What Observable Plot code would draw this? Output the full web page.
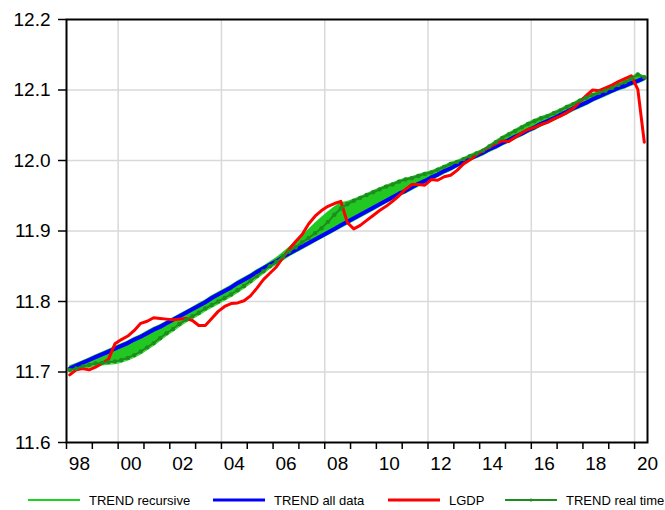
<!DOCTYPE html>
<html>
<head>
<meta charset="utf-8">
<script src="https://cdn.jsdelivr.net/npm/d3@7"></script>
<script src="https://cdn.jsdelivr.net/npm/@observablehq/plot@0.6"></script>
<style>
  body { margin: 0; background: #fff; font-family: "Liberation Sans", Arial, sans-serif; }
  #wrap { position: relative; width: 665px; height: 510px; overflow: hidden; }
  .item { position: absolute; top: 491px; height: 18px; display: flex; align-items: center;
          font-size: 13px; color: #000; white-space: nowrap; }
  .item svg { margin-right: 9px; }
</style>
</head>
<body>
<div id="wrap"></div>
<script>
// Quarterly observations, 1998Q1 - 2020Q2 (log real GDP and its HP trends)
const startYear = 1998;

const lgdp = [
  11.696, 11.703, 11.705, 11.703, 11.707, 11.712, 11.718, 11.740, 11.746, 11.751,
  11.759, 11.769, 11.772, 11.777, 11.776, 11.775, 11.774, 11.775, 11.776, 11.773,
  11.766, 11.766, 11.776, 11.786, 11.793, 11.797, 11.798, 11.801, 11.808, 11.819,
  11.831, 11.840, 11.849, 11.862, 11.874, 11.885, 11.895, 11.910, 11.921, 11.929,
  11.935, 11.939, 11.942, 11.912, 11.903, 11.908, 11.915, 11.922, 11.929, 11.935,
  11.942, 11.950, 11.959, 11.966, 11.966, 11.965, 11.973, 11.972, 11.977, 11.979,
  11.986, 11.995, 12.001, 12.008, 12.014, 12.019, 12.024, 12.028, 12.027, 12.033,
  12.039, 12.044, 12.047, 12.051, 12.054, 12.059, 12.063, 12.068, 12.074, 12.083,
  12.092, 12.100, 12.099, 12.103, 12.107, 12.112, 12.116, 12.120, 12.101, 12.026
];

const trendAllData = [
  11.705, 11.709, 11.713, 11.717, 11.721, 11.725, 11.729, 11.733, 11.737, 11.741,
  11.746, 11.750, 11.755, 11.760, 11.764, 11.769, 11.774, 11.779, 11.784, 11.789,
  11.794, 11.799, 11.805, 11.810, 11.815, 11.820, 11.826, 11.831, 11.836, 11.842,
  11.847, 11.852, 11.857, 11.863, 11.868, 11.873, 11.878, 11.883, 11.888, 11.893,
  11.898, 11.903, 11.908, 11.913, 11.918, 11.923, 11.928, 11.933, 11.938, 11.943,
  11.948, 11.953, 11.957, 11.962, 11.967, 11.971, 11.976, 11.980, 11.985, 11.989,
  11.994, 11.998, 12.003, 12.007, 12.011, 12.016, 12.020, 12.025, 12.029, 12.034,
  12.038, 12.043, 12.047, 12.052, 12.056, 12.060, 12.065, 12.069, 12.074, 12.078,
  12.082, 12.087, 12.091, 12.095, 12.099, 12.103, 12.106, 12.110, 12.113, 12.117
];

const trendRealTime = [
  11.703, 11.705, 11.708, 11.710, 11.712, 11.713, 11.714, 11.715, 11.717, 11.720,
  11.724, 11.729, 11.735, 11.741, 11.748, 11.755, 11.761, 11.768, 11.774, 11.779,
  11.784, 11.790, 11.795, 11.800, 11.805, 11.810, 11.816, 11.822, 11.829, 11.836,
  11.843, 11.850, 11.856, 11.864, 11.871, 11.877, 11.884, 11.890, 11.897, 11.904,
  11.913, 11.923, 11.932, 11.938, 11.943, 11.947, 11.951, 11.955, 11.959, 11.963,
  11.966, 11.970, 11.973, 11.975, 11.978, 11.981, 11.983, 11.987, 11.991, 11.995,
  11.998, 12.002, 12.006, 12.010, 12.014, 12.020, 12.026, 12.032, 12.037, 12.042,
  12.047, 12.052, 12.056, 12.060, 12.063, 12.067, 12.071, 12.076, 12.080, 12.085,
  12.089, 12.093, 12.096, 12.099, 12.103, 12.107, 12.111, 12.116, 12.122, 12.118
];

// Envelope of the recursively estimated trends (lowest and highest estimate per quarter)
const trendRecursiveLow = [
  11.700, 11.702, 11.705, 11.707, 11.709, 11.710, 11.711, 11.712, 11.714, 11.717,
  11.721, 11.726, 11.732, 11.738, 11.745, 11.752, 11.758, 11.765, 11.771, 11.776,
  11.781, 11.787, 11.792, 11.797, 11.802, 11.807, 11.813, 11.819, 11.826, 11.833,
  11.840, 11.847, 11.853, 11.859, 11.865, 11.870, 11.875, 11.880, 11.885, 11.890,
  11.895, 11.900, 11.905, 11.910, 11.915, 11.920, 11.925, 11.930, 11.935, 11.940,
  11.945, 11.950, 11.954, 11.959, 11.964, 11.968, 11.973, 11.977, 11.982, 11.986,
  11.991, 11.995, 12.000, 12.004, 12.008, 12.013, 12.017, 12.022, 12.026, 12.031,
  12.035, 12.040, 12.044, 12.049, 12.053, 12.057, 12.062, 12.066, 12.071, 12.075,
  12.079, 12.084, 12.088, 12.092, 12.096, 12.100, 12.103, 12.107, 12.110, 12.114
];

const trendRecursiveHigh = [
  11.709, 11.712, 11.716, 11.720, 11.724, 11.728, 11.732, 11.736, 11.740, 11.744,
  11.749, 11.753, 11.758, 11.763, 11.767, 11.772, 11.777, 11.782, 11.787, 11.792,
  11.797, 11.802, 11.808, 11.813, 11.818, 11.823, 11.829, 11.834, 11.839, 11.845,
  11.850, 11.856, 11.862, 11.869, 11.877, 11.885, 11.893, 11.902, 11.911, 11.919,
  11.927, 11.934, 11.940, 11.942, 11.945, 11.949, 11.953, 11.957, 11.961, 11.965,
  11.968, 11.972, 11.975, 11.977, 11.980, 11.983, 11.985, 11.989, 11.993, 11.997,
  12.000, 12.004, 12.008, 12.012, 12.016, 12.022, 12.028, 12.034, 12.039, 12.044,
  12.049, 12.054, 12.058, 12.062, 12.065, 12.069, 12.073, 12.078, 12.082, 12.087,
  12.091, 12.095, 12.098, 12.101, 12.105, 12.109, 12.113, 12.118, 12.124, 12.120
];

const yearLabels = ["98", "00", "02", "04", "06", "08", "10", "12", "14", "16", "18", "20"];
const yTicks = [11.6, 11.7, 11.8, 11.9, 12.0, 12.1, 12.2];

const seriesNames  = ["TREND recursive", "TREND all data", "LGDP", "TREND real time"];
const seriesColors = ["#1ed21e", "#0000ff", "#ff0000", "#1e8c1e"];

// Each quarter is placed at the middle of its period on a continuous year axis
const rows = lgdp.map((v, i) => ({
  t: startYear + (i + 0.5) / 4,
  lgdp: v,
  all: trendAllData[i],
  rt: trendRealTime[i],
  lo: trendRecursiveLow[i],
  hi: trendRecursiveHigh[i]
}));

const yearTicks = d3.range(startYear, 2021);
const gridYears = d3.range(2000, 2021, 4);
const labelPos = yearLabels.map((_, i) => startYear + 2 * i + 0.5);
const labelOf = new Map(labelPos.map((p, i) => [p, yearLabels[i]]));
const gridColor = "#d9d9d9";

const chart = Plot.plot({
  width: 665,
  height: 478,
  marginLeft: 66,
  marginRight: 18,
  marginTop: 19,
  marginBottom: 36,
  style: { fontFamily: "'Liberation Sans', Arial, sans-serif", fontSize: "19px", color: "#000", background: "#fff", overflow: "visible" },
  x: { domain: [startYear, 2020.5], axis: null },
  y: { domain: [11.6, 12.2], axis: null },
  marks: [
    Plot.gridX(gridYears, { stroke: gridColor, strokeOpacity: 1, strokeWidth: 1.5 }),
    Plot.gridY(yTicks.slice(1, -1), { stroke: gridColor, strokeOpacity: 1, strokeWidth: 1.5 }),
    Plot.areaY(rows, { x: "t", y1: "lo", y2: "hi", fill: "#22c822", fillOpacity: 1 }),
    Plot.lineY(rows, { x: "t", y: "lo", stroke: "#2ed82e", strokeWidth: 1.2 }),
    Plot.lineY(rows, { x: "t", y: "all", stroke: seriesColors[1], strokeWidth: 4 }),
    Plot.lineY(rows, { x: "t", y: "lgdp", stroke: seriesColors[2], strokeWidth: 3 }),
    Plot.lineY(rows, { x: "t", y: "rt", stroke: seriesColors[3], strokeWidth: 2 }),
    Plot.dot(rows, { x: "t", y: "rt", r: 2.2, fill: seriesColors[3], stroke: null }),
    Plot.axisX(yearTicks, { tickSize: 7, tickFormat: () => "", label: null, strokeWidth: 1.5, stroke: "#000" }),
    Plot.axisX(labelPos, { tickSize: 0, tickPadding: 14, tickFormat: d => labelOf.get(d), label: null, fontSize: 19 }),
    Plot.axisY(yTicks, { tickSize: 8, tickPadding: 8, tickFormat: d3.format(".1f"), label: null, fontSize: 19, strokeWidth: 1.5, stroke: "#000" }),
    Plot.frame({ stroke: "#000", strokeWidth: 2 })
  ]
});

const wrap = document.getElementById("wrap");
wrap.appendChild(chart);

// Legend row beneath the plot
const legendLeft = [28, 213, 388, 505];
seriesNames.forEach((name, i) => {
  const item = document.createElement("div");
  item.className = "item";
  item.style.left = legendLeft[i] + "px";
  const dot = i === 3 ? `<circle cx="26" cy="5" r="1.6" fill="${seriesColors[i]}"/>` : "";
  item.innerHTML =
    `<svg width="52" height="10"><line x1="0" y1="5" x2="52" y2="5" stroke="${seriesColors[i]}" stroke-width="${i === 1 || i === 2 ? 3 : 2}"/>${dot}</svg><span>${name}</span>`;
  wrap.appendChild(item);
});
</script>
</body>
</html>
